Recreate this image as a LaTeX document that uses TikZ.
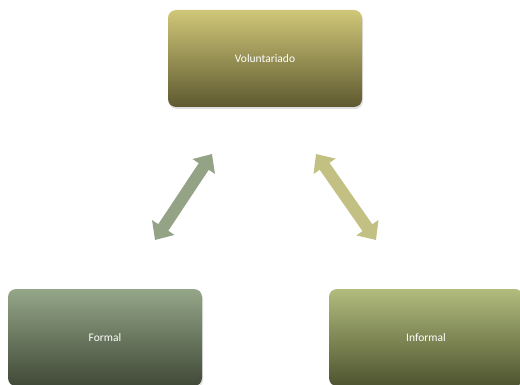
\documentclass[tikz,border=0pt]{standalone}
\usepackage{fontspec}
\setmainfont{Carlito}
\usetikzlibrary{arrows.meta,shadows}
\definecolor{volTop}{HTML}{D0C778}
\definecolor{volBot}{HTML}{5E5930}
\definecolor{forTop}{HTML}{94A688}
\definecolor{forBot}{HTML}{404937}
\definecolor{infTop}{HTML}{B1BC7D}
\definecolor{infBot}{HTML}{4E542F}
\definecolor{arrowL}{HTML}{94A386}
\definecolor{arrowR}{HTML}{C3C084}
\tikzset{
	box/.style={rounded corners=8pt, minimum width=194pt, minimum height=97pt, inner sep=0pt,
		text=white, font=\fontsize{11.5}{14}\selectfont,
		drop shadow={opacity=0.25, shadow xshift=1pt, shadow yshift=-2pt}},
	dblarrow/.style={line width=12pt, {Triangle[length=15pt,width=26pt]}-{Triangle[length=15pt,width=26pt]}}
}

\begin{document}
\begin{tikzpicture}[x=1pt, y=-1pt]
			%%%%% START %%%%%
			
			\useasboundingbox (0, 0) rectangle (520, 385);
			
			\node[box, top color=volTop, bottom color=volBot] (vol) at (265, 58.5) {Voluntariado};
			
			\node[box, top color=forTop, bottom color=forBot] (formal) at (105, 337.5) {Formal};
			\node[box, top color=infTop, bottom color=infBot] (informal) at (426, 337.5) {Informal};
			
			\coordinate (la) at (155, 240);
			\coordinate (lb) at (212, 154);
			\coordinate (ra) at (316, 154);
			\coordinate (rb) at (376, 240);
			
			\draw[dblarrow, color=arrowL] (la) -- (lb);
			\draw[dblarrow, color=arrowR] (ra) -- (rb);
			
			%%%%% END %%%%%
\end{tikzpicture}
\end{document}
